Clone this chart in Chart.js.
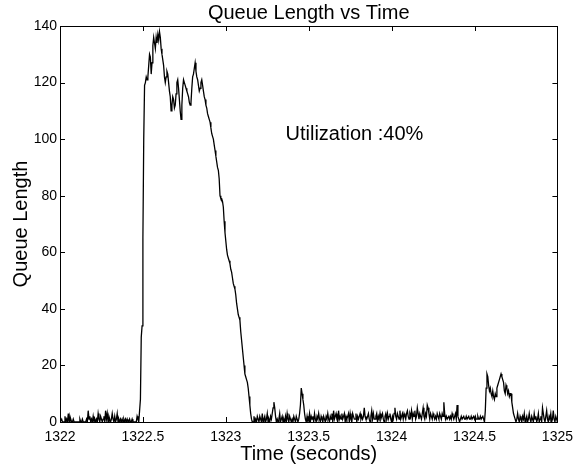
<!DOCTYPE html>
<html>
<head>
<meta charset="utf-8">
<script src="https://cdn.jsdelivr.net/npm/chart.js@4/dist/chart.umd.min.js"></script>
<style>
  html, body { margin: 0; padding: 0; background: #fff; }
  #wrap { width: 580px; height: 470px; }
</style>
</head>
<body>
<div id="wrap"><canvas id="queueChart" width="580" height="470"></canvas></div>
<script>
(function () {
  // Sampling grid of the trace (seconds)
  const T_START = 1322;
  const T_STEP = 0.005;

  // Queue length, one row per 0.1 s (20 samples each)
  const queueLength = [
    0, 0, 1, 0, 0, 0, 2, 0, 1, 0, 3, 0, 2, 1, 0, 0, 1, 0, 0, 0,
    0, 0, 0, 0, 1, 0, 0, 1, 0, 0, 0, 0, 1, 0, 4, 1, 2, 0, 1, 0,
    2, 0, 1, 0, 1, 0, 3, 1, 0, 2, 1, 0, 1, 2, 0, 4, 1, 3, 0, 2,
    1, 0, 1, 3, 1, 0, 2, 0, 1, 3, 0, 1, 0, 1, 0, 1, 0, 1, 0, 1,
    0, 1, 0, 0, 1, 0, 0, 1, 0, 0, 0, 0, 0, 2, 1, 0, 4, 8, 30, 34,
    65, 100, 119, 120, 122, 121, 122, 126, 130, 129, 123, 127, 133, 136, 134, 132, 136, 134, 137, 135,
    138, 136, 132, 130, 128, 126, 122, 120, 122, 124, 123, 120, 117, 115, 110, 112, 115, 114, 111, 112,
    116, 120, 121, 118, 114, 110, 107, 112, 118, 121, 120, 119, 118, 117, 116, 115, 113, 112, 113, 118,
    122, 123, 125, 127, 124, 122, 121, 119, 117, 118, 120, 121, 119, 117, 115, 114, 112, 111, 109, 108,
    107, 106, 104, 102, 101, 100, 98, 96, 94, 92, 90, 89, 86, 80, 79, 79, 78, 76, 71, 67,
    64, 61, 59, 58, 57, 56, 54, 53, 51, 49, 48, 47, 45, 42, 40, 38, 37, 36, 32, 29,
    26, 23, 20, 17, 16, 15, 14, 12, 9, 6, 3, 1, 0, 0, 2, 0, 1, 0, 2, 1,
    0, 2, 1, 0, 3, 0, 1, 2, 0, 1, 3, 0, 1, 0, 2, 1, 3, 5, 7, 5,
    2, 0, 1, 0, 1, 3, 0, 1, 2, 0, 1, 0, 2, 0, 3, 1, 0, 2, 1, 0,
    1, 0, 2, 1, 0, 2, 1, 0, 1, 3, 6, 12, 10, 8, 6, 3, 1, 0, 2, 0,
    1, 3, 0, 2, 1, 2, 0, 3, 1, 0, 2, 1, 3, 1, 0, 2, 1, 0, 2, 1,
    0, 2, 1, 3, 1, 0, 2, 1, 3, 0, 4, 1, 2, 3, 1, 0, 4, 1, 2, 1,
    3, 1, 2, 3, 0, 2, 1, 2, 3, 0, 3, 1, 0, 3, 2, 1, 1, 3, 0, 2,
    1, 2, 3, 1, 2, 1, 2, 5, 2, 1, 1, 2, 3, 1, 0, 2, 4, 1, 3, 1,
    1, 2, 3, 0, 2, 1, 3, 1, 2, 3, 1, 0, 2, 3, 1, 3, 1, 2, 3, 1,
    0, 2, 1, 3, 5, 2, 1, 3, 2, 1, 4, 1, 2, 3, 1, 3, 2, 1, 3, 4,
    2, 1, 3, 2, 4, 1, 3, 2, 4, 1, 2, 5, 3, 1, 3, 2, 1, 3, 5, 2,
    1, 3, 2, 6, 5, 3, 1, 3, 2, 1, 3, 2, 1, 2, 1, 3, 2, 1, 3, 2,
    1, 3, 2, 7, 3, 1, 2, 1, 1, 2, 1, 2, 1, 3, 2, 1, 2, 3, 1, 6,
    2, 1, 0, 1, 2, 1, 1, 2, 1, 1, 2, 1, 1, 2, 1, 1, 2, 1, 1, 2,
    1, 2, 1, 1, 2, 1, 1, 2, 1, 1, 2, 1, 0, 4, 12, 17, 16, 13, 11, 12,
    10, 9, 11, 9, 8, 10, 9, 12, 13, 14, 15, 16, 17, 16, 15, 14, 11, 10, 13, 12,
    10, 11, 9, 10, 10, 7, 5, 3, 2, 1, 0, 1, 3, 1, 0, 2, 1, 0, 2, 1,
    3, 0, 1, 2, 0, 1, 3, 1, 0, 2, 1, 0, 3, 1, 2, 0, 1, 3, 0, 1,
    2, 0, 5, 3, 1, 0, 2, 4, 1, 0, 2, 1, 3, 0, 1, 4, 1, 0, 2, 1,
    0,
  ];

  const xTicks = [1322, 1322.5, 1323, 1323.5, 1324, 1324.5, 1325];
  const yTicks = [0, 20, 40, 60, 80, 100, 120, 140];

  const annotationText = "Utilization :40%";
  const annotationAt = { x: 1323.36, y: 101.5 };

  const FONT = "'Liberation Sans', Arial, Helvetica, sans-serif";
  const TICK_LEN = 5;

  const points = queueLength.map((v, i) => ({ x: +(T_START + i * T_STEP).toFixed(3), y: v }));

  // Box around the plot with inward ticks on all four sides, plus the text note
  const frameTicksPlugin = {
    id: "frameTicks",
    afterDatasetsDraw(chart) {
      const { ctx, chartArea: a, scales } = chart;
      ctx.save();
      ctx.strokeStyle = "#000";
      ctx.lineWidth = 1;
      ctx.strokeRect(Math.round(a.left) + 0.5, Math.round(a.top) + 0.5,
        Math.round(a.right - a.left), Math.round(a.bottom - a.top));
      ctx.beginPath();
      xTicks.forEach((v) => {
        const px = Math.round(scales.x.getPixelForValue(v)) + 0.5;
        ctx.moveTo(px, a.bottom);
        ctx.lineTo(px, a.bottom - TICK_LEN);
        ctx.moveTo(px, a.top);
        ctx.lineTo(px, a.top + TICK_LEN);
      });
      yTicks.forEach((v) => {
        const py = Math.round(scales.y.getPixelForValue(v)) + 0.5;
        ctx.moveTo(a.left, py);
        ctx.lineTo(a.left + TICK_LEN, py);
        ctx.moveTo(a.right, py);
        ctx.lineTo(a.right - TICK_LEN, py);
      });
      ctx.stroke();

      ctx.fillStyle = "#000";
      ctx.font = "20px " + FONT;
      ctx.textAlign = "left";
      ctx.textBaseline = "middle";
      ctx.fillText(annotationText, scales.x.getPixelForValue(annotationAt.x), scales.y.getPixelForValue(annotationAt.y));
      ctx.restore();
    },
  };

  new Chart(document.getElementById("queueChart"), {
    type: "line",
    data: {
      datasets: [
        {
          label: "Queue Length",
          data: points,
          borderColor: "#000",
          borderWidth: 1.3,
          pointRadius: 0,
          tension: 0,
          fill: false,
        },
      ],
    },
    plugins: [frameTicksPlugin],
    options: {
      responsive: false,
      animation: false,
      layout: { padding: { left: 0, right: 17, top: 0, bottom: 0 } },
      scales: {
        x: {
          type: "linear",
          min: 1322,
          max: 1325,
          afterFit: (scale) => { scale.height = 48; },
          afterBuildTicks: (scale) => { scale.ticks = xTicks.map((v) => ({ value: v })); },
          grid: { display: false, drawTicks: false },
          border: { display: false },
          ticks: {
            color: "#000",
            font: { family: FONT, size: 14 },
            padding: 7,
            maxRotation: 0,
            autoSkip: false,
            callback: (v) => String(v),
          },
          title: {
            display: true,
            text: "Time (seconds)",
            color: "#000",
            font: { family: FONT, size: 20 },
            padding: { top: 0, bottom: 4 },
          },
        },
        y: {
          min: 0,
          max: 140,
          afterFit: (scale) => { scale.width = 60; },
          afterBuildTicks: (scale) => { scale.ticks = yTicks.map((v) => ({ value: v })); },
          grid: { display: false, drawTicks: false },
          border: { display: false },
          ticks: {
            color: "#000",
            font: { family: FONT, size: 14 },
            padding: 3,
            autoSkip: false,
            callback: (v) => String(v),
          },
          title: {
            display: true,
            text: "Queue Length",
            color: "#000",
            font: { family: FONT, size: 20 },
            padding: { top: 9, bottom: 0 },
          },
        },
      },
      plugins: {
        legend: { display: false },
        tooltip: { enabled: false },
        title: {
          display: true,
          text: "Queue Length vs Time",
          color: "#000",
          fullSize: false,
          font: { family: FONT, size: 20, weight: "normal" },
          padding: { top: 1, bottom: 1 },
        },
      },
    },
  });
})();
</script>
</body>
</html>
